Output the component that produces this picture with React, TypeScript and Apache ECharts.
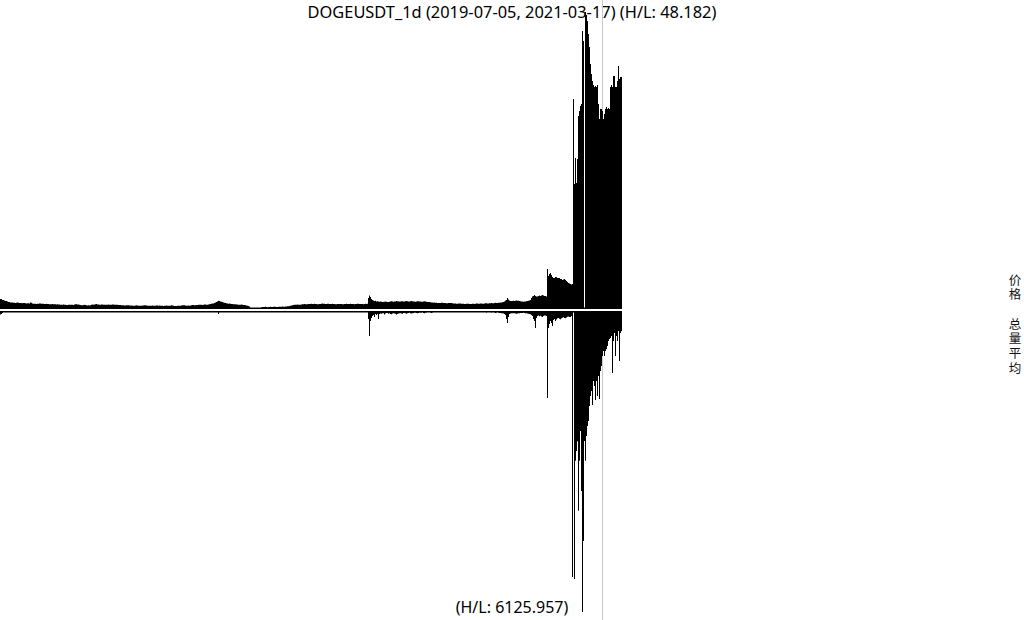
import React, { useEffect, useRef } from "react";
import * as echarts from "echarts";

const START_DATE = "2019-07-05";
const TITLE_TEXT = "DOGEUSDT_1d (2019-07-05, 2021-03-17) (H/L: 48.182)";
const VOLUME_TEXT = "(H/L: 6125.957)";
const PRICE_LABEL = "价格";
const VOLUME_LABEL = "总量平均";
const MARKER_INDEX = 602;

// daily price (USDT), 2019-07-05 .. 2021-03-17
const prices = [
  0.00385, 0.00385, 0.00358, 0.00358, 0.00345, 0.00332, 0.00332, 0.00319, 0.00306, 0.00306,
  0.00293, 0.00293, 0.00293, 0.00288, 0.00288, 0.0028, 0.00286, 0.00293, 0.00288, 0.0028,
  0.0028, 0.0028, 0.00275, 0.0028, 0.0028, 0.00272, 0.00267, 0.00275, 0.00275, 0.0027,
  0.00293, 0.00288, 0.00267, 0.00259, 0.00262, 0.00259, 0.00254, 0.00259, 0.00262, 0.00267,
  0.00267, 0.00262, 0.00259, 0.00259, 0.00254, 0.00254, 0.00259, 0.00254, 0.00254, 0.00249,
  0.00249, 0.00249, 0.00254, 0.00249, 0.00246, 0.00246, 0.00241, 0.00246, 0.00241, 0.00241,
  0.00236, 0.00236, 0.00236, 0.00241, 0.00236, 0.00233, 0.00228, 0.00228, 0.00233, 0.00236,
  0.00236, 0.00233, 0.00233, 0.00228, 0.00241, 0.00249, 0.00249, 0.00241, 0.00241, 0.00236,
  0.00228, 0.00223, 0.00223, 0.00228, 0.00233, 0.00228, 0.0022, 0.00215, 0.0022, 0.00215,
  0.00223, 0.00236, 0.00241, 0.00233, 0.00241, 0.00249, 0.00254, 0.00241, 0.00241, 0.00236,
  0.00236, 0.00241, 0.00241, 0.00236, 0.00233, 0.00236, 0.00236, 0.00236, 0.00241, 0.00236,
  0.00236, 0.00233, 0.00241, 0.00241, 0.00236, 0.00233, 0.00236, 0.00233, 0.00228, 0.00228,
  0.00228, 0.00223, 0.0022, 0.00223, 0.00215, 0.00215, 0.0022, 0.00223, 0.00223, 0.00215,
  0.00215, 0.00215, 0.0021, 0.0021, 0.0021, 0.00215, 0.00223, 0.00215, 0.0021, 0.00207,
  0.00207, 0.0021, 0.00215, 0.00215, 0.00223, 0.00223, 0.00215, 0.0021, 0.0021, 0.00207,
  0.0021, 0.0021, 0.00215, 0.0021, 0.00207, 0.0021, 0.00215, 0.00215, 0.0021, 0.00215,
  0.0021, 0.00207, 0.00207, 0.00202, 0.00207, 0.0021, 0.00215, 0.00207, 0.00207, 0.00207,
  0.0021, 0.00223, 0.00215, 0.00207, 0.00202, 0.00202, 0.00202, 0.00207, 0.00207, 0.0021,
  0.0021, 0.00215, 0.00223, 0.00223, 0.00223, 0.00215, 0.0021, 0.0021, 0.00215, 0.0021,
  0.00215, 0.00223, 0.00228, 0.00228, 0.00223, 0.00223, 0.00228, 0.00228, 0.00236, 0.00233,
  0.00233, 0.00233, 0.00228, 0.00236, 0.00241, 0.00241, 0.00236, 0.00236, 0.00241, 0.00249,
  0.00254, 0.00262, 0.00267, 0.00267, 0.0028, 0.00293, 0.00306, 0.00319, 0.0034, 0.00332,
  0.00319, 0.00314, 0.00306, 0.00293, 0.00288, 0.0028, 0.00272, 0.00267, 0.00262, 0.00267,
  0.00262, 0.00254, 0.00254, 0.00249, 0.00249, 0.00246, 0.00241, 0.00241, 0.00236, 0.00236,
  0.00236, 0.00241, 0.00236, 0.00228, 0.00228, 0.00223, 0.00215, 0.0021, 0.00202, 0.00189,
  0.00165, 0.00163, 0.00163, 0.00165, 0.00165, 0.00163, 0.00165, 0.00165, 0.00163, 0.00165,
  0.00165, 0.00171, 0.00176, 0.00176, 0.00176, 0.00181, 0.00176, 0.00171, 0.00176, 0.00176,
  0.00181, 0.00176, 0.00176, 0.00181, 0.00184, 0.00181, 0.00176, 0.00176, 0.00181, 0.00184,
  0.00181, 0.00184, 0.00189, 0.00184, 0.00184, 0.00189, 0.00189, 0.00194, 0.00197, 0.00202,
  0.0021, 0.00215, 0.00223, 0.00228, 0.00236, 0.00236, 0.00236, 0.00241, 0.00236, 0.00236,
  0.00236, 0.00241, 0.00249, 0.00249, 0.00254, 0.00249, 0.00249, 0.00249, 0.00254, 0.00254,
  0.00254, 0.00259, 0.00254, 0.00254, 0.00259, 0.00254, 0.00254, 0.00249, 0.00249, 0.00254,
  0.00254, 0.00262, 0.00267, 0.00262, 0.00262, 0.00254, 0.00254, 0.00259, 0.00259, 0.00254,
  0.00254, 0.00254, 0.00259, 0.00254, 0.00254, 0.00249, 0.00249, 0.00254, 0.00254, 0.00254,
  0.00254, 0.00254, 0.00249, 0.00249, 0.00254, 0.00254, 0.00259, 0.00254, 0.00254, 0.00254,
  0.00259, 0.00254, 0.00254, 0.00254, 0.00249, 0.00254, 0.00254, 0.00259, 0.00262, 0.00254,
  0.00254, 0.00254, 0.00254, 0.00249, 0.00254, 0.00259, 0.00254, 0.00262, 0.00411, 0.00476,
  0.00437, 0.00385, 0.00358, 0.00345, 0.00332, 0.0034, 0.00319, 0.00327, 0.00319, 0.00314,
  0.00319, 0.00314, 0.00306, 0.00306, 0.00314, 0.00319, 0.00314, 0.00306, 0.00306, 0.00314,
  0.00319, 0.00327, 0.00319, 0.00314, 0.00319, 0.00319, 0.00332, 0.00327, 0.00319, 0.00319,
  0.00319, 0.00327, 0.00327, 0.00319, 0.00319, 0.00327, 0.00332, 0.00327, 0.00319, 0.00319,
  0.00327, 0.00332, 0.00327, 0.00319, 0.00319, 0.00314, 0.00319, 0.00327, 0.00327, 0.00319,
  0.00319, 0.00314, 0.00314, 0.00319, 0.00327, 0.00319, 0.00314, 0.00306, 0.00306, 0.00306,
  0.00301, 0.00293, 0.00293, 0.00288, 0.00293, 0.00288, 0.00288, 0.0028, 0.0028, 0.0028,
  0.0028, 0.00288, 0.00288, 0.0028, 0.0028, 0.0028, 0.00275, 0.00275, 0.0028, 0.0028,
  0.0028, 0.0028, 0.00275, 0.00267, 0.00267, 0.00267, 0.00262, 0.00262, 0.00267, 0.00267,
  0.00267, 0.00262, 0.00262, 0.00262, 0.00254, 0.00254, 0.00259, 0.00259, 0.00262, 0.00254,
  0.00254, 0.00254, 0.00259, 0.00259, 0.00254, 0.00262, 0.00267, 0.00267, 0.00262, 0.00262,
  0.00267, 0.00267, 0.00262, 0.00262, 0.00267, 0.00275, 0.00275, 0.00267, 0.00267, 0.00275,
  0.00275, 0.0028, 0.00275, 0.00275, 0.0028, 0.00288, 0.0028, 0.0028, 0.00288, 0.00288,
  0.00293, 0.00293, 0.00301, 0.00306, 0.00319, 0.00345, 0.00358, 0.00411, 0.00371, 0.00345,
  0.00332, 0.00332, 0.00332, 0.0034, 0.00332, 0.0034, 0.00345, 0.0034, 0.0034, 0.00332,
  0.00327, 0.00319, 0.00319, 0.00314, 0.00319, 0.00319, 0.00327, 0.00332, 0.0034, 0.00345,
  0.00358, 0.00411, 0.0045, 0.00463, 0.00489, 0.00463, 0.0045, 0.0045, 0.00463, 0.00476,
  0.00463, 0.00476, 0.00489, 0.00476, 0.00463, 0.00463, 0.0045, 0.01166, 0.00984, 0.01036,
  0.01062, 0.0101, 0.00958, 0.00932, 0.00932, 0.00958, 0.00958, 0.00932, 0.00932, 0.00932,
  0.00906, 0.00906, 0.00879, 0.00892, 0.00906, 0.00879, 0.00853, 0.00827, 0.00801, 0.00788,
  0.00775, 0.00762, 0.00775, 0.05595, 0.0338, 0.04058, 0.03406, 0.04032, 0.05152, 0.05282,
  0.05412, 0.05464, 0.07366, 0.07105, 0.001631, 0.0786, 0.07783, 0.07626, 0.07288, 0.06949,
  0.06506, 0.06246, 0.06063, 0.05959, 0.05907, 0.05933, 0.05907, 0.05959, 0.05464, 0.05074,
  0.05334, 0.05334, 0.05282, 0.05074, 0.05204, 0.05334, 0.05386, 0.05334, 0.0536, 0.05334,
  0.05907, 0.05959, 0.05907, 0.06194, 0.06194, 0.05907, 0.05907, 0.06063, 0.06454, 0.06116,
  0.06168, 0.06168,
];

// daily volume (millions of DOGE)
const volumes = [
  427, 366, 244, 110, 95, 120, 88, 75, 102, 90,
  85, 70, 92, 110, 64, 78, 98, 81, 72, 66,
  90, 104, 77, 69, 83, 95, 71, 62, 88, 76,
  118, 96, 73, 68, 80, 74, 66, 59, 71, 85,
  79, 67, 63, 70, 58, 61, 75, 69, 57, 64,
  72, 60, 66, 55, 62, 71, 58, 53, 67, 60,
  56, 63, 52, 58, 65, 54, 50, 59, 62, 55,
  61, 57, 53, 49, 68, 82, 74, 63, 58, 55,
  52, 48, 57, 61, 54, 50, 47, 53, 58, 51,
  64, 79, 72, 60, 76, 88, 92, 70, 66, 59,
  57, 62, 68, 55, 51, 58, 54, 60, 63, 56,
  53, 49, 61, 58, 52, 48, 55, 50, 46, 52,
  49, 45, 51, 47, 44, 50, 53, 48, 46, 43,
  47, 42, 45, 49, 44, 51, 58, 46, 43, 40,
  44, 48, 52, 47, 56, 53, 46, 42, 45, 41,
  44, 47, 50, 43, 40, 46, 49, 45, 42, 48,
  43, 39, 45, 41, 44, 47, 52, 43, 40, 42,
  46, 63, 51, 44, 39, 41, 38, 43, 45, 48,
  47, 55, 62, 58, 53, 49, 45, 44, 50, 46,
  52, 60, 64, 57, 55, 51, 59, 62, 66, 58,
  56, 54, 50, 61, 67, 63, 58, 55, 64, 70,
  78, 85, 93, 88, 104, 126, 148, 170, 366, 180,
  150, 132, 118, 104, 96, 90, 84, 79, 75, 82,
  77, 70, 68, 66, 64, 62, 60, 59, 57, 61,
  63, 66, 60, 58, 64, 72, 85, 96, 110, 140,
  170, 155, 130, 118, 105, 98, 92, 86, 80, 84,
  78, 74, 70, 72, 68, 75, 69, 64, 66, 63,
  67, 62, 60, 65, 70, 66, 61, 59, 64, 68,
  63, 67, 72, 66, 62, 70, 74, 78, 82, 90,
  98, 105, 112, 96, 88, 92, 85, 80, 84, 78,
  82, 88, 94, 90, 97, 86, 83, 80, 88, 92,
  86, 95, 90, 84, 93, 88, 82, 79, 85, 90,
  94, 102, 110, 98, 92, 87, 84, 90, 95, 88,
  84, 80, 86, 82, 79, 76, 80, 84, 81, 78,
  82, 86, 80, 77, 83, 88, 92, 85, 80, 84,
  90, 86, 81, 78, 75, 80, 84, 89, 94, 86,
  82, 79, 85, 80, 84, 90, 87, 96, 977, 3053,
  1221, 855, 610, 488, 733, 366, 488, 366, 977, 366,
  300, 340, 260, 280, 420, 310, 250, 240, 330, 290,
  360, 410, 300, 270, 320, 350, 440, 380, 300, 280,
  260, 300, 330, 250, 240, 290, 340, 270, 230, 220,
  280, 310, 260, 230, 210, 200, 240, 270, 250, 220,
  210, 200, 190, 230, 260, 220, 200, 180, 190, 175,
  200, 230, 210, 185, 195, 180, 170, 165, 175, 160,
  170, 190, 180, 165, 158, 150, 160, 155, 170, 165,
  160, 155, 150, 145, 140, 150, 145, 138, 150, 155,
  148, 140, 135, 145, 130, 128, 140, 150, 160, 142,
  135, 130, 145, 155, 140, 160, 175, 168, 150, 145,
  160, 170, 150, 145, 165, 190, 200, 175, 168, 185,
  190, 210, 180, 175, 200, 230, 210, 195, 220, 235,
  250, 260, 280, 300, 360, 488, 977, 1465, 733, 366,
  300, 280, 260, 290, 270, 310, 330, 300, 280, 260,
  250, 230, 240, 220, 245, 260, 280, 300, 330, 360,
  400, 488, 610, 977, 1221, 2076, 855, 600, 560, 640,
  590, 660, 720, 610, 560, 540, 600, 10623, 2076, 1587,
  1221, 1465, 1832, 1100, 980, 1220, 1050, 900, 860, 940,
  1000, 880, 820, 760, 850, 900, 780, 700, 680, 720,
  733, 610, 32480, 6, 32720, 18300, 17100, 15900, 24400, 18300,
  14650, 21980, 36756, 28080, 15870, 18300, 15260, 14040, 13430, 11600,
  10380, 9770, 11480, 8550, 9160, 10870, 8550, 10380, 7940, 10750,
  7330, 6720, 5500, 4880, 5500, 4880, 4640, 4270, 3660, 3420,
  3300, 3050, 7570, 3660, 2690, 5500, 3050, 3660, 2440, 6110,
  2690, 2440,
];

function buildDates(start: string, count: number): string[] {
  const [y, m, d] = start.split("-").map(Number);
  const base = Date.UTC(y, m - 1, d);
  const out: string[] = [];
  for (let i = 0; i < count; i++) {
    out.push(new Date(base + i * 86400000).toISOString().slice(0, 10));
  }
  return out;
}

const dates = buildDates(START_DATE, prices.length);

const FONT = "'Noto Sans', 'Open Sans', sans-serif";
const CJK_FONT = "'Noto Sans CJK SC', sans-serif";

function verticalLabel(text: string, x: number, yStart: number, step: number) {
  return text.split("").map((ch, i) => ({
    type: "text",
    x,
    y: yStart + i * step,
    z: 10,
    style: {
      text: ch,
      fill: "#111",
      fontSize: 12.5,
      fontFamily: CJK_FONT,
      textAlign: "center",
      textVerticalAlign: "middle",
    },
  }));
}

export default function App() {
  const ref = useRef<HTMLDivElement>(null);
  useEffect(() => {
    if (!ref.current) return;
    const chart = echarts.init(ref.current, undefined, { renderer: "svg" });
    const n = dates.length;
    const xBase = (gridIndex: number) => ({
      type: "category" as const,
      gridIndex,
      data: dates,
      boundaryGap: true,
      axisLine: { show: false },
      axisTick: { show: false },
      axisLabel: { show: false },
      splitLine: { show: false },
    });
    const markerLine = {
      silent: true,
      symbol: ["none", "none"],
      z: 1,
      label: { show: false },
      lineStyle: { color: "#c8c8c8", width: 1, type: "solid" },
      data: [{ xAxis: dates[MARKER_INDEX] }],
    };
    chart.setOption({
      animation: false,
      backgroundColor: "#ffffff",
      title: [
        {
          text: TITLE_TEXT,
          left: "center",
          top: 3,
          padding: 0,
          z: 0,
          textStyle: { fontFamily: FONT, fontSize: 16.4, fontWeight: "normal", color: "#000" },
        },
        {
          text: VOLUME_TEXT,
          left: "center",
          top: 599,
          padding: 0,
          z: 0,
          textStyle: { fontFamily: FONT, fontSize: 16, fontWeight: "normal", color: "#000" },
        },
      ],
      grid: [
        { left: 0, top: 0, width: n, height: 309 },
        { left: 0, top: 311, width: n, height: 309 },
      ],
      xAxis: [xBase(0), xBase(1)],
      yAxis: [
        { type: "value", gridIndex: 0, min: 0.00124, max: 0.08173, show: false },
        { type: "value", gridIndex: 1, min: 0, max: 37733, inverse: true, show: false },
      ],
      series: [
        {
          type: "line",
          xAxisIndex: 0,
          yAxisIndex: 0,
          data: [],
          silent: true,
          z: 1,
          markLine: markerLine,
        },
        {
          type: "line",
          xAxisIndex: 1,
          yAxisIndex: 1,
          data: [],
          silent: true,
          z: 1,
          markLine: markerLine,
        },
        {
          type: "bar",
          xAxisIndex: 0,
          yAxisIndex: 0,
          data: prices,
          barCategoryGap: "0%",
          itemStyle: { color: "#000" },
          z: 3,
        },
        {
          type: "bar",
          xAxisIndex: 1,
          yAxisIndex: 1,
          data: volumes,
          barCategoryGap: "0%",
          barMinHeight: 1.5,
          itemStyle: { color: "#000" },
          z: 3,
        },
      ],
      graphic: [
        ...verticalLabel(PRICE_LABEL, 1015, 279, 14.8),
        ...verticalLabel(VOLUME_LABEL, 1015, 323, 14.8),
      ],
    });
    return () => chart.dispose();
  }, []);
  return (
    <div
      ref={ref}
      style={{ position: "absolute", left: 0, top: 0, width: 1024, height: 620 }}
    />
  );
}
